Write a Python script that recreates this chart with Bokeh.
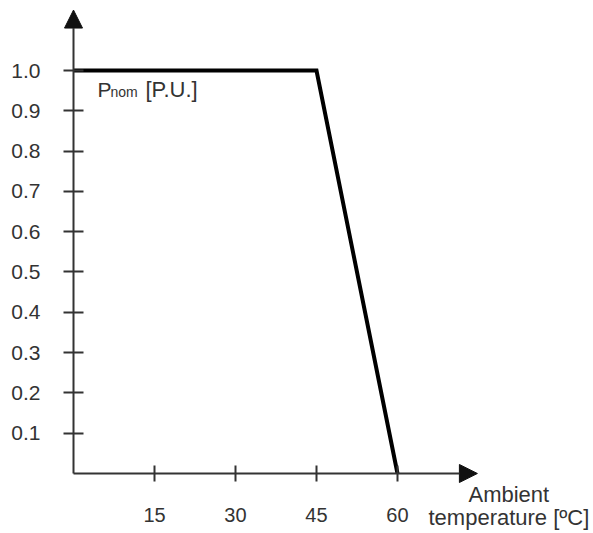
from bokeh.plotting import figure
from bokeh.models import FixedTicker, Arrow, NormalHead, Label, Range1d
from bokeh.embed import file_html
from bokeh.resources import INLINE

# data
temperature = [0, 45, 60]
power_pu = [1.0, 1.0, 0.0]
x_ticks = [15, 30, 45, 60]
y_ticks = [0.1, 0.2, 0.3, 0.4, 0.5, 0.6, 0.7, 0.8, 0.9, 1.0]
y_tick_labels = {t: f"{t:.1f}" for t in y_ticks}
x_axis_end = 74.8
y_axis_end = 1.15

FONT = "Liberation Sans"
AX = "#333333"
HEAD = "#111111"

p = figure(width=593, height=533, output_backend="svg", toolbar_location=None,
           x_range=Range1d(-13.52, 96.30), y_range=Range1d(-0.1489, 1.1737),
           min_border=0, min_border_left=0, min_border_right=0,
           min_border_top=0, min_border_bottom=0)
p.grid.visible = False
p.outline_line_color = None
p.background_fill_color = "white"
p.border_fill_color = "white"

for ax in p.xaxis:
    ax.fixed_location = 0
    ax.ticker = FixedTicker(ticks=x_ticks)
    ax.axis_line_color = None
    ax.major_tick_in = 8
    ax.major_tick_out = 8
    ax.major_tick_line_width = 2
    ax.major_tick_line_color = AX
    ax.minor_tick_line_color = None
    ax.major_label_standoff = 27
    ax.major_label_text_font = FONT
    ax.major_label_text_font_size = "20px"
    ax.major_label_text_color = AX

for ax in p.yaxis:
    ax.fixed_location = 0
    ax.ticker = FixedTicker(ticks=y_ticks)
    ax.major_label_overrides = y_tick_labels
    ax.axis_line_color = None
    ax.major_tick_in = 10
    ax.major_tick_out = 10
    ax.major_tick_line_width = 2
    ax.major_tick_line_color = AX
    ax.minor_tick_line_color = None
    ax.major_label_standoff = 23
    ax.major_label_text_font = FONT
    ax.major_label_text_font_size = "21px"
    ax.major_label_text_color = AX

# axis arrows
p.add_layout(Arrow(x_start=0, y_start=0, x_end=x_axis_end, y_end=0, line_width=2, line_color=AX,
                   end=NormalHead(size=18, fill_color=HEAD, line_color=HEAD)))
p.add_layout(Arrow(x_start=0, y_start=0, x_end=0, y_end=y_axis_end, line_width=2, line_color=AX,
                   end=NormalHead(size=18, fill_color=HEAD, line_color=HEAD)))

# derating curve
p.line(temperature, power_pu, line_width=4, line_color="black", line_join="miter")

# y label: P_nom [P.U.]
p.add_layout(Label(x=4.45, y=0.953, text="P", text_font=FONT, text_font_size="21px",
                   text_color=AX, text_baseline="alphabetic"))
p.add_layout(Label(x=6.85, y=0.946, text="nom", text_font=FONT, text_font_size="14px",
                   text_color=AX, text_baseline="alphabetic"))
p.add_layout(Label(x=13.33, y=0.953, text="[P.U.]", text_font=FONT, text_font_size="22px",
                   text_color=AX, text_baseline="alphabetic"))

# x label
p.add_layout(Label(x=73.15, y=-0.052, text="Ambient", text_font=FONT, text_font_size="22px",
                   text_color=AX, text_baseline="alphabetic"))
p.add_layout(Label(x=65.74, y=-0.109, text="temperature [ºC]", text_font=FONT, text_font_size="22px",
                   text_color=AX, text_baseline="alphabetic"))

open("out.html", "w").write(file_html(p, INLINE))
